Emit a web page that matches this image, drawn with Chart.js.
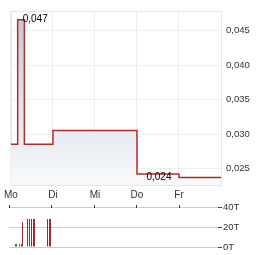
<!DOCTYPE html>
<html><head><meta charset="utf-8">
<script src="https://cdn.jsdelivr.net/npm/chart.js@4/dist/chart.umd.min.js"></script>
<style>
html,body{margin:0;padding:0;background:#fff;}
#wrap{position:relative;width:264px;height:255px;}
#c1{position:absolute;left:0;top:0;}
#c2{position:absolute;left:0;top:200px;}
</style></head><body>
<div id="wrap">
<canvas id="c1" width="264" height="200"></canvas>
<canvas id="c2" width="264" height="55"></canvas>
</div>
<script>
// ---- data ----
const dayLabels = ['Mo','Di','Mi','Do','Fr',''];
// price: time in days since Monday open, price value (step changes)
const priceX = [0, 0.16, 0.32, 1.0, 3.0, 4.0, 5.0];
const priceY = [0.0285, 0.0466, 0.0285, 0.0305, 0.0242, 0.0237, 0.0237];
const priceTicks = [0.025, 0.030, 0.035, 0.040, 0.045];
// volume (thousands)
const volX = [0.153, 0.177, 0.248, 0.295, 0.318, 0.436, 0.483, 0.531, 0.578, 0.601, 0.908, 0.955, 0.979];
const volY = [3, 3, 3, 3, 25, 28, 28, 28, 28, 28, 28, 28, 28];
const volUp = [true, true, true, true, false, false, false, false, false, false, false, false, false];
const volTicks = [0, 20, 40];

const FONT = 'Liberation Sans, Arial, sans-serif';
const fmt = v => v.toFixed(3).replace('.', ',');

const framePlugin = {
  id: 'frame',
  beforeDatasetsDraw(chart) {
    const a = chart.chartArea, ctx = chart.ctx;
    ctx.save();
    ctx.strokeStyle = '#e6e6e6';
    ctx.lineWidth = 1;
    ctx.strokeRect(Math.round(a.left) + 0.5, Math.round(a.top) + 0.5, Math.round(a.right - a.left), Math.round(a.bottom - a.top));
    ctx.restore();
  }
};

const labelPlugin = {
  id: 'extremes',
  afterDatasetsDraw(chart) {
    const xs = chart.scales.x, ys = chart.scales.y, ctx = chart.ctx;
    const r = v => Math.round(v * 1000);
    let iMax = 0, iMin = 0;
    priceY.forEach((v, i) => { if (r(v) > r(priceY[iMax])) iMax = i; if (r(v) < r(priceY[iMin])) iMin = i; });
    ctx.save();
    ctx.font = '10px ' + FONT;
    ctx.fillStyle = '#000';
    ctx.textAlign = 'left';
    ctx.textBaseline = 'middle';
    ctx.fillText(fmt(priceY[iMax]), xs.getPixelForValue(priceX[iMax]) + 5, ys.getPixelForValue(priceY[iMax]));
    ctx.textAlign = 'center';
    const xm = (xs.getPixelForValue(priceX[iMin]) + xs.getPixelForValue(priceX[iMin + 1])) / 2;
    ctx.fillText(fmt(priceY[iMin]), xm + 1, ys.getPixelForValue(priceY[iMin]) + 3);
    ctx.restore();
  }
};

const c1 = document.getElementById('c1').getContext('2d');
new Chart(c1, {
  type: 'line',
  data: {
    datasets: [{
      data: priceX.map((x, i) => ({x, y: priceY[i]})),
      stepped: true,
      borderColor: '#b52a2a',
      borderWidth: 1.5,
      pointRadius: 0,
      fill: 'start',
      backgroundColor: (ctx) => {
        const a = ctx.chart.chartArea;
        if (!a) return 'rgba(220,228,234,1)';
        const g = ctx.chart.ctx.createLinearGradient(0, a.top, 0, a.bottom);
        g.addColorStop(0, 'rgb(188,202,213)');
        g.addColorStop(1, 'rgb(249,250,251)');
        return g;
      }
    }]
  },
  options: {
    responsive: false,
    animation: false,
    events: [],
    layout: {padding: {left: 9, top: 7, right: 0, bottom: 0}},
    plugins: {legend: {display: false}, tooltip: {enabled: false}},
    scales: {
      x: {
        type: 'linear', min: 0, max: 5,
        afterFit: s => { s.height = 15; },
        afterBuildTicks: s => { s.ticks = dayLabels.map((l, i) => ({value: i})); },
        grid: {color: '#eeeeee', drawTicks: false},
        border: {display: false},
        ticks: {
          padding: 4, maxRotation: 0, autoSkip: false,
          font: {family: FONT, size: 10}, color: '#333',
          callback: (v) => dayLabels[v] ?? ''
        }
      },
      y: {
        position: 'right',
        min: 0.0226, max: 0.0479,
        afterFit: s => { s.width = 43; },
        afterBuildTicks: s => { s.ticks = priceTicks.map(v => ({value: v})); },
        grid: {color: '#eeeeee', drawTicks: false},
        border: {display: false},
        ticks: {padding: 5, font: {family: FONT, size: 9.5}, color: '#333', callback: v => fmt(v)}
      }
    }
  },
  plugins: [framePlugin, labelPlugin]
});

const tickPlugin = {
  id: 'topticks',
  afterDraw(chart) {
    const xs = chart.scales.x, a = chart.chartArea, ctx = chart.ctx;
    ctx.save();
    ctx.strokeStyle = '#333';
    ctx.lineWidth = 1;
    for (let i = 0; i < 5; i++) {
      const x = Math.round(xs.getPixelForValue(i)) + 0.5;
      ctx.beginPath();
      ctx.moveTo(x, a.top - 2);
      ctx.lineTo(x, a.top + 1);
      ctx.stroke();
    }
    ctx.restore();
  }
};

const c2 = document.getElementById('c2').getContext('2d');
new Chart(c2, {
  type: 'bar',
  data: {
    datasets: [{
      data: volX.map((x, i) => ({x, y: volY[i]})),
      backgroundColor: volUp.map(u => u ? '#138a13' : '#b22222'),
      barThickness: 1,
      borderWidth: 0,
      inflateAmount: 0
    }]
  },
  options: {
    responsive: false,
    animation: false,
    events: [],
    layout: {padding: {left: 9, top: 7, right: 0, bottom: 8}},
    plugins: {legend: {display: false}, tooltip: {enabled: false}},
    scales: {
      x: {type: 'linear', min: 0, max: 209 / 42.4, display: false, offset: false},
      y: {
        position: 'right', min: 0, max: 40,
        afterFit: s => { s.width = 46; },
        afterBuildTicks: s => { s.ticks = volTicks.map(v => ({value: v})); },
        grid: {color: '#cccccc', tickColor: '#444', tickLength: 4},
        border: {display: false},
        ticks: {padding: 1, font: {family: FONT, size: 9.5}, color: '#333', callback: v => v + 'T'}
      }
    }
  },
  plugins: [tickPlugin]
});
</script>
</body></html>
